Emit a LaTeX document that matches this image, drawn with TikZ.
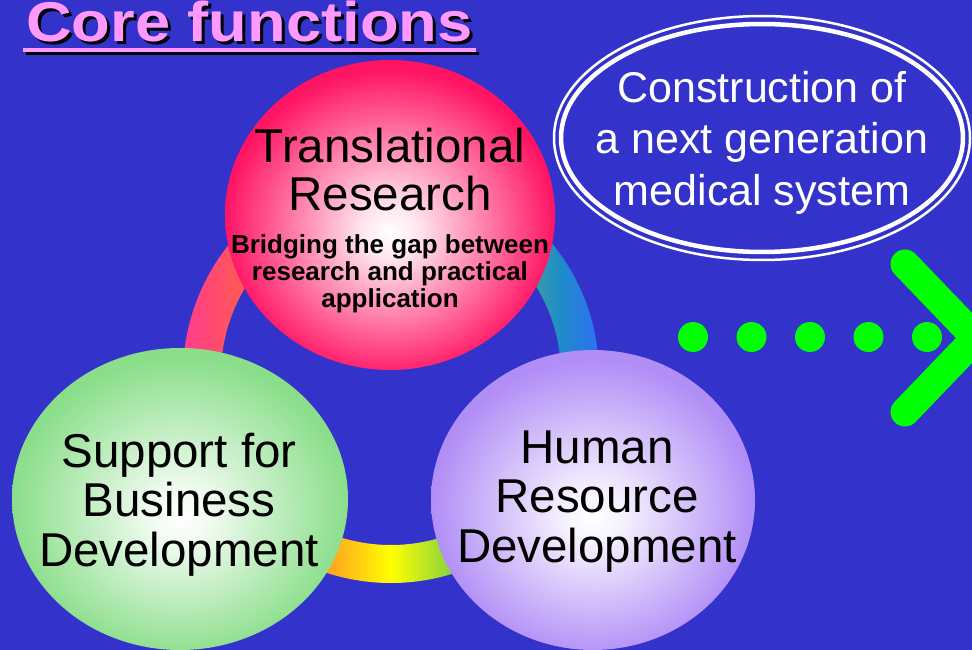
\documentclass[tikz,border=0pt]{standalone}
\usepackage{fontspec}
\setmainfont{Liberation Sans}
\usetikzlibrary{shapes.geometric}

\definecolor{slidebg}{HTML}{3333CC}
\definecolor{titlepink}{HTML}{FF99FF}
\definecolor{arrowgreen}{HTML}{00FF00}
\definecolor{pinkedge}{HTML}{FF1464}
\definecolor{greenedge}{HTML}{8ADE8A}
\definecolor{purpleedge}{HTML}{B18DF6}
\definecolor{ringpink}{HTML}{FF3C8E}
\definecolor{ringred}{HTML}{FF5A50}
\definecolor{ringorange}{HTML}{FFA61E}
\definecolor{ringyellow}{HTML}{FFFF00}
\definecolor{ringgreen}{HTML}{8CD43C}
\definecolor{ringteal}{HTML}{1E8CC8}
\definecolor{ringblue}{HTML}{3070F4}

\pgfdeclarehorizontalshading{rainbowring}{100bp}{color(0bp)=(ringpink); color(25bp)=(ringpink); color(32.5bp)=(ringred); color(42.7bp)=(ringorange); color(50bp)=(ringyellow); color(57bp)=(ringgreen); color(70.3bp)=(ringteal); color(75bp)=(ringblue); color(100bp)=(ringblue)}
\pgfdeclareradialshading{pinkball}{\pgfpoint{0bp}{-3bp}}{color(0bp)=(white); color(4bp)=(white!90!pinkedge); color(25bp)=(pinkedge); color(50bp)=(pinkedge)}
\pgfdeclareradialshading{greenball}{\pgfpoint{0bp}{-3bp}}{color(0bp)=(white); color(4bp)=(white!90!greenedge); color(25bp)=(greenedge); color(50bp)=(greenedge)}
\pgfdeclareradialshading{purpleball}{\pgfpoint{0bp}{-3bp}}{color(0bp)=(white); color(4bp)=(white!90!purpleedge); color(25bp)=(purpleedge); color(50bp)=(purpleedge)}

\tikzset{
  sphere/.style={ellipse, shade, inner sep=0pt},
  bigtext/.style={anchor=base, align=center, inner sep=0pt, font=\fontsize{47.5}{49.5}\selectfont},
  notetext/.style={anchor=base, align=center, inner sep=0pt, font=\fontsize{26}{27}\selectfont\bfseries},
  titletext/.style={anchor=base west, inner sep=0pt, font=\fontsize{56}{60}\selectfont\bfseries},
  gdot/.style={circle, fill=arrowgreen, minimum size=30pt, inner sep=0pt}
}

\begin{document}
\begin{tikzpicture}[x=1pt,y=-1pt]
    \useasboundingbox (0,0) rectangle (972,650);
    \clip (0,0) rectangle (972,650);
    \fill[slidebg] (0,0) rectangle (972,650);

    % ring behind the three balls
    \coordinate (ringc) at (391,375);
    \shade[shading=rainbowring, even odd rule] (ringc) circle[radius=208pt] (ringc) circle[radius=170pt];

    \node (trans) at (390,215) [sphere, shading=pinkball, minimum width=330pt, minimum height=310pt] {};
    \node (biz) at (180,499) [sphere, shading=greenball, minimum width=336pt, minimum height=302pt] {};
    \node (hr) at (593,500) [sphere, shading=purpleball, minimum width=324pt, minimum height=300pt] {};

    % base anchor sits on the last line
    \node (transhead) at (390,210) [bigtext, font=\fontsize{47.5}{48}\selectfont] {Translational\\Research};
    \node (transnote) at (390,307) [notetext] {Bridging the gap between\\research and practical\\application};
    \node (bizlabel) at (179,566) [bigtext] {Support for\\Business\\Development};
    \node (hrlabel) at (597,562) [bigtext] {Human\\Resource\\Development};

    % title with shadow
    \node (titleshadow) at (29,45) [titletext, text=black] {\scalebox{1.13}[1]{Core functions}};
    \node (title) at (26,42) [titletext, text=titlepink] {\scalebox{1.13}[1]{Core functions}};
    \draw[black, line width=3.5pt] (26,53.5) -- (479,53.5);
    \draw[titlepink, line width=3.5pt] (23,50) -- (476,50);

    % goal ellipse
    \node (goal) at (762,138) [ellipse, draw=white, line width=2.5pt, minimum width=416pt, minimum height=244pt] {};
    \draw[white, line width=4.5pt] (goal.center) ellipse[x radius=201pt, y radius=114pt];
    \node (goaltext) at (762,205) [anchor=base, align=center, inner sep=0pt, text=white, font=\fontsize{43}{51.5}\selectfont] {Construction of\\a next generation\\medical system};

    \foreach \i in {0,...,4} {
        \node (dot\i) at (693+58.5*\i,337) [gdot] {};
    }
    \coordinate (chevtop) at (905,264);
    \coordinate (chevtip) at (976,338);
    \coordinate (chevbot) at (905,412);
    \draw[arrowgreen, line width=29pt, line cap=round, line join=round] (chevtop) -- (chevtip) -- (chevbot);
\end{tikzpicture}
\end{document}
